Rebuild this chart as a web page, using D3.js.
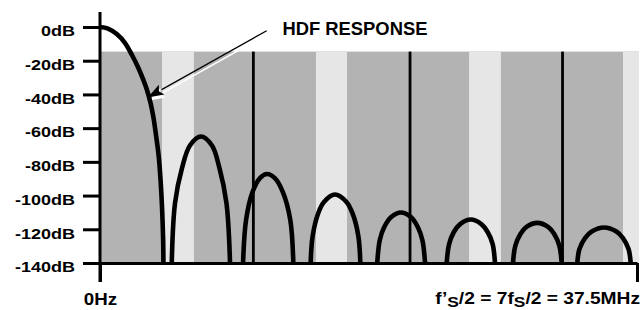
<!DOCTYPE html>
<html><head><meta charset="utf-8">
<script src="https://cdn.jsdelivr.net/npm/d3@7"></script>
<style>
html,body{margin:0;padding:0;background:#fff;}
svg{display:block;font-family:"Liberation Sans",Arial,Helvetica,sans-serif;font-weight:bold;}
</style>
</head><body>
<svg id="chart" width="644" height="310"></svg>
<script>
// ---------- data ----------
const freqMaxMHz = 37.5;
const dbTicks = [0, -20, -40, -60, -80, -100, -120, -140];
const bandTopDb = -14.6;
const bandEndMHz = 37.64;
const lightBandStart = [4.33, 15.08, 25.77, 36.52];
const lightBandEnd   = [6.56, 17.25, 28.00, 37.64];
const fsMarkers = [10.71, 21.65, 32.30];

// HDF response lobes: [frequency MHz, level dB]
const mainLobe = [[0,0],[0.56,-0.9],[1.17,-4.2],[1.75,-9.5],[2.23,-16.6],[2.65,-23.7],[3.00,-30.8],[3.28,-37.4],[3.53,-45.1],[3.74,-54.0],[3.91,-64.1],[4.09,-75.9],[4.23,-90.8],[4.34,-108.6],[4.41,-126.4],[4.43,-140]];
const lobe1 = [[5.01,-140],[5.24,-104.4],[5.73,-83.6],[6.28,-70.3],[7.05,-65.0],[7.82,-70.3],[8.34,-83.6],[8.83,-104.4],[9.08,-140]];
const lobe2 = [[9.99,-140],[10.20,-114.5],[10.65,-97.9],[11.17,-89.6],[11.66,-87.2],[12.21,-89.6],[12.77,-97.9],[13.29,-114.5],[13.50,-140]];
const lobe3 = [[14.71,-140],[14.85,-124],[15.22,-110.9],[15.64,-103.8],[16.41,-99.4],[17.21,-103.8],[17.65,-110.9],[18.04,-124],[18.18,-140]];
const lobe4 = [[19.36,-140],[19.54,-126.3],[19.85,-118.6],[20.34,-112.7],[21.02,-110.0],[21.71,-112.7],[22.19,-118.6],[22.51,-126.3],[22.70,-140]];
const lobe5 = [[24.21,-140],[24.38,-128.8],[24.71,-121.6],[25.15,-116.9],[25.89,-114.2],[26.63,-116.9],[27.07,-121.6],[27.42,-128.8],[27.58,-140]];
const lobe6 = [[28.84,-140],[29.00,-129.9],[29.36,-122.8],[29.78,-118.6],[30.54,-116.2],[31.29,-118.6],[31.72,-122.8],[32.08,-129.9],[32.24,-140]];
const lobe7 = [[33.33,-140],[33.48,-131.7],[33.87,-125.2],[34.34,-121.3],[35.20,-118.9],[36.06,-121.3],[36.52,-125.2],[36.91,-131.7],[37.06,-140]];
const lobes = [mainLobe, lobe1, lobe2, lobe3, lobe4, lobe5, lobe6, lobe7];

const titleText = "HDF RESPONSE";
const titlePos = [12.74, -4.9];
const arrowTail = [11.64, -2.2];
const arrowTip = [3.33, -41.8];
const xLabelStart = "0Hz";

// ---------- scales ----------
const svg = d3.select('#chart');
const x = d3.scaleLinear().domain([0, freqMaxMHz]).range([100, 637]);
const y = d3.scaleLinear().domain([-140, 0]).range([263, 27]);

// ---------- background bands ----------
svg.append('rect')
  .attr('x', x(0)).attr('y', y(bandTopDb))
  .attr('width', x(bandEndMHz) - x(0)).attr('height', y(-140) - y(bandTopDb))
  .attr('fill', '#b3b3b3');
svg.selectAll('rect.light').data(d3.range(lightBandStart.length)).join('rect')
  .attr('class', 'light')
  .attr('x', i => x(lightBandStart[i])).attr('y', y(bandTopDb))
  .attr('width', i => x(lightBandEnd[i]) - x(lightBandStart[i]))
  .attr('height', y(-140) - y(bandTopDb))
  .attr('fill', '#e6e6e6');

svg.selectAll('line.fs').data(fsMarkers).join('line')
  .attr('class', 'fs')
  .attr('x1', d => x(d)).attr('x2', d => x(d))
  .attr('y1', y(bandTopDb)).attr('y2', y(-140))
  .attr('stroke', '#000').attr('stroke-width', 2.8);

// ---------- arrow annotation ----------
function drawArrow(g, color, lw) {
  const x0 = x(arrowTail[0]), y0 = y(arrowTail[1]);
  const x1 = x(arrowTip[0]), y1 = y(arrowTip[1]);
  const dx = x0 - x1, dy = y0 - y1, L = Math.hypot(dx, dy);
  const ux = dx / L, uy = dy / L, px = -uy, py = ux;
  const hl = 16, hw = 5.5;
  const bx = x1 + ux * hl, by = y1 + uy * hl;
  g.append('line').attr('x1', x0).attr('y1', y0).attr('x2', bx).attr('y2', by)
    .attr('stroke', color).attr('stroke-width', lw);
  g.append('path')
    .attr('d', `M${x1},${y1}L${bx + px * hw},${by + py * hw}L${x1 + ux * hl * 0.8},${y1 + uy * hl * 0.8}L${bx - px * hw},${by - py * hw}Z`)
    .attr('fill', color);
}
drawArrow(svg.append('g').attr('transform', 'translate(1.6,3)'), '#fff', 1.6);
drawArrow(svg.append('g'), '#000', 1.3);

// ---------- response curve ----------
const line = d3.line().x(d => x(d[0])).y(d => y(d[1])).curve(d3.curveCatmullRom.alpha(0.5));
svg.selectAll('path.lobe').data(lobes).join('path')
  .attr('class', 'lobe')
  .attr('d', line)
  .attr('fill', 'none').attr('stroke', '#000')
  .attr('stroke-width', 4.6).attr('stroke-linecap', 'butt').attr('stroke-linejoin', 'round');

// ---------- axes ----------
const yAxis = d3.axisLeft(y).tickValues(dbTicks).tickSize(17).tickSizeOuter(0)
  .tickFormat(d => d + 'dB');
const gy = svg.append('g').attr('transform', `translate(${x(0)},0)`).call(yAxis);
gy.attr('font-size', null).attr('font-family', null);
gy.select('.domain').remove();
gy.selectAll('.tick line').attr('stroke', '#000').attr('stroke-width', 3);
gy.selectAll('.tick text')
  .attr('x', null).attr('dy', null)
  .attr('transform', 'translate(-25,8.8) scale(1.17,1)')
  .attr('font-size', 15.4).attr('font-weight', 'bold').attr('fill', '#000');

svg.append('line')
  .attr('x1', x(0)).attr('x2', x(0))
  .attr('y1', y(0) - 15).attr('y2', y(-140) + 19)
  .attr('stroke', '#000').attr('stroke-width', 3);

const xAxis = d3.axisBottom(x).tickValues([0, freqMaxMHz]).tickSize(19).tickSizeOuter(0)
  .tickFormat(d => d === 0 ? xLabelStart : '');
const gx = svg.append('g').attr('transform', `translate(0,${y(-140)})`).call(xAxis);
gx.attr('font-size', null).attr('font-family', null);
gx.select('.domain').attr('stroke', '#000').attr('stroke-width', 3);
gx.selectAll('.tick line').attr('stroke', '#000').attr('stroke-width', 3);
gx.selectAll('.tick text')
  .attr('y', null).attr('dy', null)
  .attr('transform', 'translate(0,41.5) scale(1.17,1)')
  .attr('font-size', 16).attr('font-weight', 'bold').attr('fill', '#000');

// right-hand axis label with subscripts
const rl = svg.append('text')
  .attr('transform', `translate(${x(freqMaxMHz) + 3},304) scale(1.2,1)`)
  .attr('text-anchor', 'end').attr('font-size', 16).attr('font-weight', 'bold').attr('fill', '#000');
rl.append('tspan').text('f\u2019');
rl.append('tspan').attr('dy', 2.5).attr('font-size', 14.5).text('S');
rl.append('tspan').attr('dy', -2.5).text('/2 = 7f');
rl.append('tspan').attr('dy', 2.5).attr('font-size', 14.5).text('S');
rl.append('tspan').attr('dy', -2.5).text('/2 = 37.5MHz');

// title annotation
svg.append('text')
  .attr('x', x(titlePos[0])).attr('y', y(titlePos[1]))
  .attr('font-size', 17.5).attr('font-weight', 'bold').attr('fill', '#000')
  .attr('textLength', 145).attr('lengthAdjust', 'spacingAndGlyphs')
  .text(titleText);
</script>
</body></html>
